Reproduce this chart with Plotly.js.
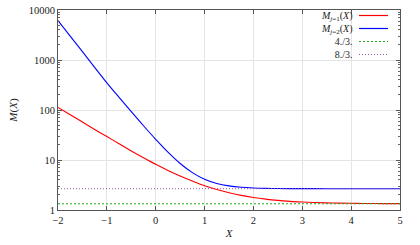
<!DOCTYPE html>
<html>
<head>
<meta charset="utf-8">
<script src="https://cdn.plot.ly/plotly-3.0.1.min.js"></script>
<style>html,body{margin:0;padding:0;background:#fff;}#chart{width:420px;height:245px;}</style>
</head>
<body>
<div id="chart"></div>
<script>
const xVals = [-2, -1.75, -1.5, -1.25, -1, -0.75, -0.5, -0.25, 0, 0.25, 0.5, 0.75, 1, 1.25, 1.5, 1.75, 2, 2.25, 2.5, 2.75, 3, 3.25, 3.5, 3.75, 4, 4.25, 4.5, 4.75, 5];
const mJm1 = [113, 80.5, 57.3, 40.9, 29.5, 21.1, 15.2, 11.1, 8.2, 6.2, 4.8, 3.8, 3.06, 2.57, 2.22, 1.96, 1.78, 1.65, 1.555, 1.49, 1.445, 1.41, 1.388, 1.372, 1.36, 1.352, 1.346, 1.342, 1.339];
const mJm2 = [6150, 3002, 1465, 714, 350, 179, 92.4, 48.4, 25.9, 14.3, 8.5, 5.59, 4.13, 3.4, 3.035, 2.851, 2.759, 2.713, 2.69, 2.678, 2.673, 2.67, 2.668, 2.667, 2.667, 2.667, 2.667, 2.667, 2.667];
const constX = [-2, 5];
const fourThirds = [4/3, 4/3];
const eightThirds = [8/3, 8/3];
const xTickVals = [-2, -1, 0, 1, 2, 3, 4, 5];
const legendLabels = ["<i>M</i><sub><i>j</i>=1</sub>(<i>X</i>)", "<i>M</i><sub><i>j</i>=2</sub>(<i>X</i>)", "4./3.", "8./3."];

const serif = "'Liberation Serif', 'DejaVu Serif', serif";
const colors = ["#ff0000", "#0000ff", "#22aa22", "#9955aa"];
const dashes = ["solid", "solid", "2px,2px", "1px,2px"];

const traces = [
  {x: xVals, y: mJm1, mode: "lines", line: {color: colors[0], width: 1.1, shape: "spline"}},
  {x: xVals, y: mJm2, mode: "lines", line: {color: colors[1], width: 1.1, shape: "spline"}},
  {x: constX, y: fourThirds, mode: "lines", line: {color: colors[2], width: 1, dash: dashes[2]}},
  {x: constX, y: eightThirds, mode: "lines", line: {color: colors[3], width: 1, dash: dashes[3]}}
];

// legend: one right-aligned multi-line text block, sample lines to its right
const legFont = 10;
const lineGap = 1.3 * legFont;
const firstRow = 15.5;
const shapes = legendLabels.map((lab, i) => {
  const yp = 1 - (firstRow + i * lineGap - 10) / 200;
  return {type: "line", xref: "paper", yref: "paper", x0: (359 - 58) / 342, x1: (388 - 58) / 342, y0: yp, y1: yp,
    line: {color: colors[i], width: i < 2 ? 1.2 : 1, dash: dashes[i]}};
});
const annotations = [{
  xref: "paper", yref: "paper", x: (355 - 58) / 342,
  y: 1 - (firstRow + 1.5 * lineGap - 10) / 200,
  xanchor: "right", yanchor: "middle", align: "right", showarrow: false,
  text: legendLabels.join("<br>"),
  font: {family: serif, size: legFont, color: "#222"}
}];

const axisCommon = {
  showline: true, linecolor: "#555", linewidth: 1, mirror: "ticks",
  ticks: "inside", ticklen: 4, tickcolor: "#555",
  showgrid: true, gridcolor: "#e4e4e4", gridwidth: 1, zeroline: false,
  tickfont: {family: serif, size: 10.5, color: "#222"}
};

const layout = {
  width: 420, height: 245,
  margin: {l: 58, r: 20, t: 10, b: 35},
  paper_bgcolor: "#fff", plot_bgcolor: "#fff",
  showlegend: false,
  xaxis: Object.assign({}, axisCommon, {
    range: [-2, 5], tickvals: xTickVals,
    title: {text: "<i>X</i>", font: {family: serif, size: 11, color: "#222"}, standoff: 4}
  }),
  yaxis: Object.assign({}, axisCommon, {
    type: "log", range: [0, 4], tickmode: "linear", tick0: 0, dtick: 1, tickformat: "d",
    minor: {ticks: "inside", ticklen: 2, tickcolor: "#666", dtick: "D1", showgrid: false},
    title: {text: "<i>M</i>(<i>X</i>)", font: {family: serif, size: 11, color: "#222"}, standoff: 8}
  }),
  annotations: annotations,
  shapes: shapes
};

Plotly.newPlot("chart", traces, layout, {staticPlot: true, displayModeBar: false});
</script>
</body>
</html>
